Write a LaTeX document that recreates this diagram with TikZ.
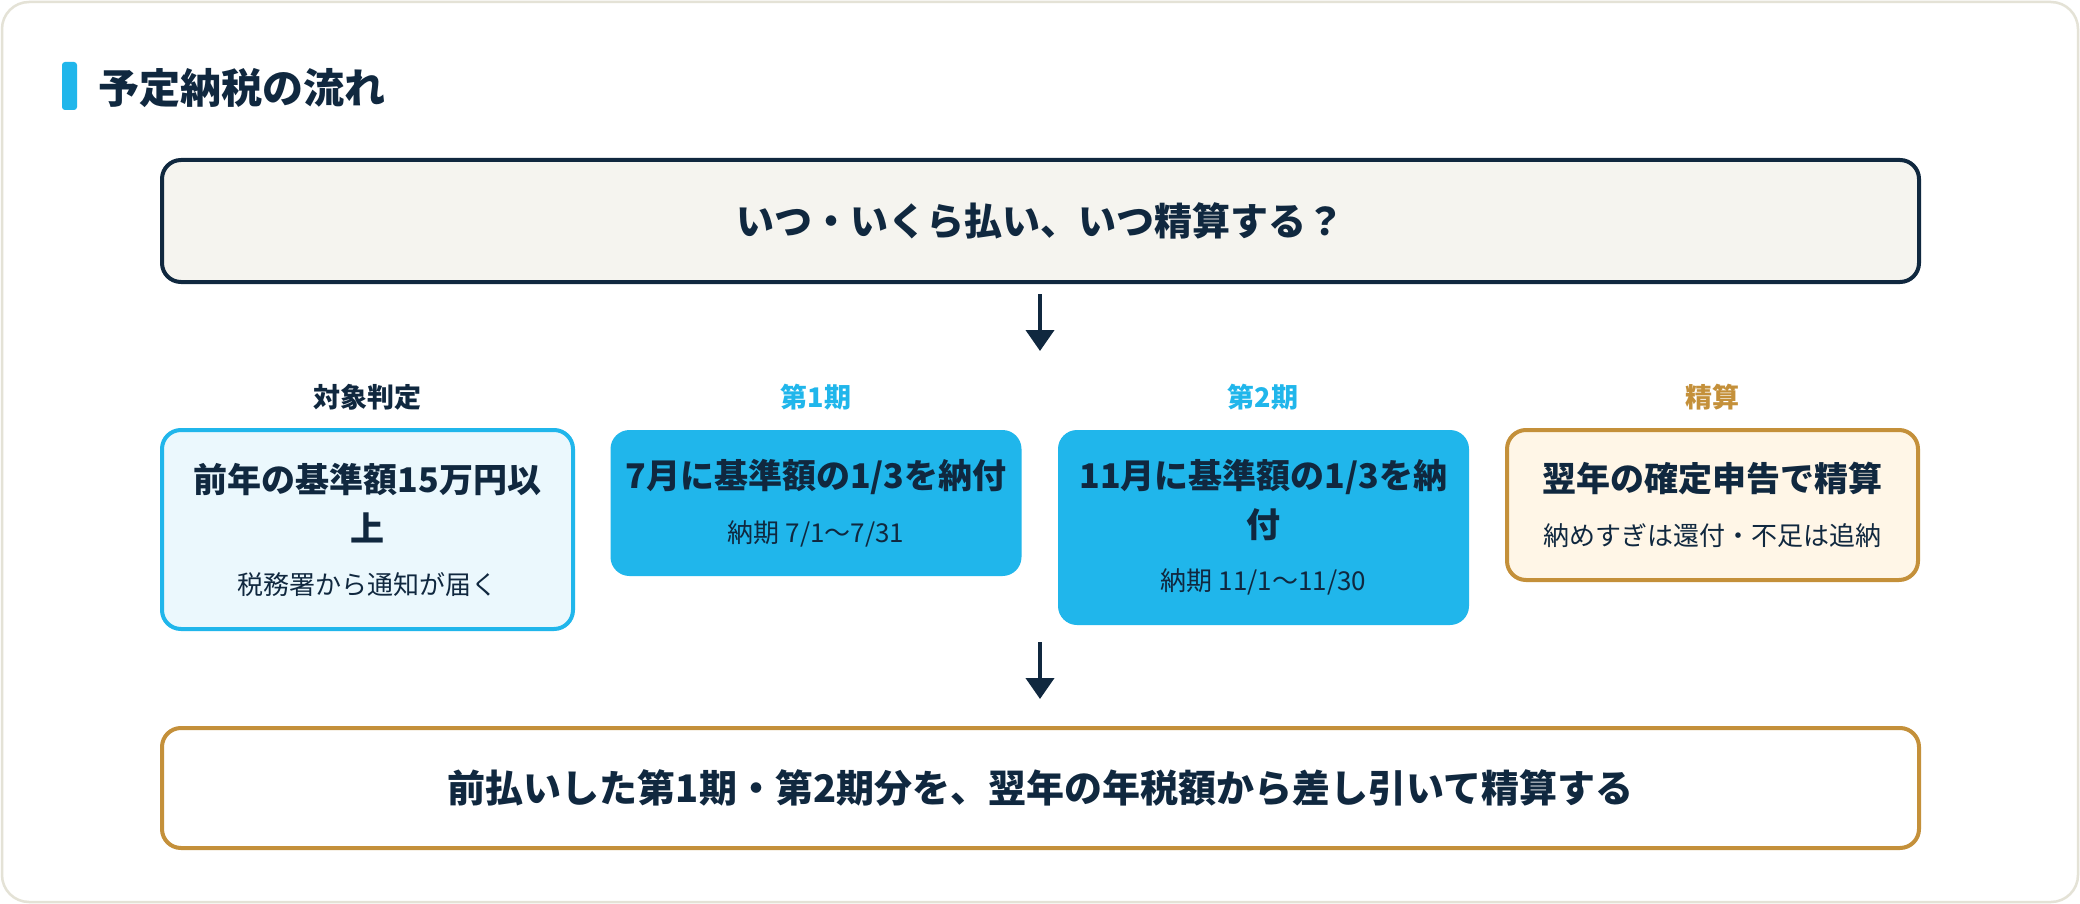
\documentclass[tikz,border=0pt]{standalone}
\usepackage{fontspec}
\setmainfont{Noto Sans CJK JP}
\usetikzlibrary{arrows.meta}
\definecolor{navy}{HTML}{10283F}
\definecolor{skyblue}{HTML}{20B6EB}
\definecolor{paleblue}{HTML}{EBF8FD}
\definecolor{gold}{HTML}{C4903A}
\definecolor{cream}{HTML}{FFF6E7}
\definecolor{paper}{HTML}{F5F4EF}
\definecolor{cardline}{HTML}{E4E2D6}
\newcommand{\mainsz}{\fontsize{34}{49}\selectfont\bfseries}
\newcommand{\subsz}{\fontsize{26}{34}\selectfont\mdseries}

\begin{document}
\begin{tikzpicture}[x=1pt,y=1pt,yscale=-1,
  stepbox/.style={rounded corners=19pt,line width=4pt,align=center,text=navy,
    minimum width=411pt,inner sep=0pt,anchor=north,font=\mainsz},
  colhead/.style={font=\fontsize{27}{32}\selectfont\bfseries},
  flow/.style={navy,line width=4pt,-{Triangle[length=21pt,width=28pt]}}]
\useasboundingbox (0,0) rectangle (2080,904);
\fill[white] (0,0) rectangle (2080,904);

%Shape: outer card
\draw[cardline,line width=2.5pt,fill=white,rounded corners=27pt] (2,2) rectangle (2078,902);

%Shape: title bar
\fill[skyblue,rounded corners=3pt] (62,62) rectangle (77,110);
% Text Node
\node (title) [anchor=west,text=navy,font=\fontsize{41}{48}\selectfont\bfseries,inner sep=0pt] at (98,88) {予定納税の流れ};

%Shape: question box
\node (boxQuestion) [stepbox,draw=navy,fill=paper,minimum width=1757pt,minimum height=122pt,
  font=\fontsize{38}{44}\selectfont\bfseries] at (1040.5,158) {いつ・いくら払い、いつ精算する？};

%Arrows
\coordinate (q1) at (1040,294);
\coordinate (q2) at (1040,351);
\draw[flow] (q1) -- (q2);

% Column heads
\node (lblTarget) [colhead,text=navy] at (367,397) {対象判定};
\node (lblFirst) [colhead,text=skyblue] at (816,397) {第1期};
\node (lblSecond) [colhead,text=skyblue] at (1263,397) {第2期};
\node (lblSettle) [colhead,text=gold] at (1712,397) {精算};

% Step boxes
\node (boxTarget) [stepbox,draw=skyblue,fill=paleblue,minimum height=199pt] at (367.5,428)
  {前年の基準額15万円以\\ 上\\[4pt] \subsz 税務署から通知が届く};
\node (boxFirst) [stepbox,fill=skyblue,minimum height=146pt] at (816,428)
  {7月に基準額の1/3を納付\\[5pt] \subsz 納期 7/1〜7/31};
\node (boxSecond) [stepbox,fill=skyblue,minimum height=195pt] at (1263.5,428)
  {11月に基準額の1/3を納\\ 付\\[4pt] \subsz 納期 11/1〜11/30};
\node (boxSettle) [stepbox,draw=gold,fill=cream,minimum height=150pt] at (1712.5,428)
  {翌年の確定申告で精算\\[5pt] \subsz 納めすぎは還付・不足は追納};

\coordinate (r1) at (1040,642);
\coordinate (r2) at (1040,699);
\draw[flow] (r1) -- (r2);

%Shape: summary box
\node (boxSummary) [stepbox,draw=gold,fill=white,minimum width=1757pt,minimum height=120pt,
  font=\fontsize{38}{44}\selectfont\bfseries] at (1040.5,726)
  {前払いした第1期・第2期分を、翌年の年税額から差し引いて精算する};

\end{tikzpicture}
\end{document}
